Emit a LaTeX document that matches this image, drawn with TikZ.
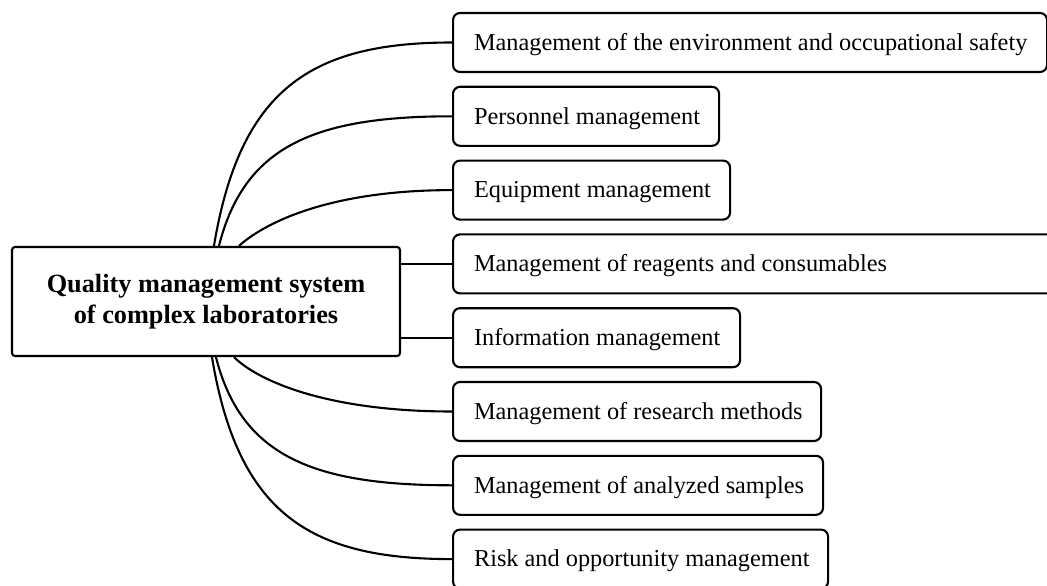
\documentclass[tikz,border=0pt]{standalone}
\usepackage{fontspec}
\setmainfont{Liberation Serif}
\usetikzlibrary{calc}
\newcommand{\leafbox}[2]{\makebox[#1][l]{#2}}
\tikzset{
  conn/.style={line width=2.1pt, black},
  leaf/.style={draw, line width=2.1pt, rounded corners=7pt, anchor=west,
    minimum height=59pt, inner xsep=21pt, inner ysep=0pt,
    text height=18pt, text depth=2.4pt,
    font=\fontsize{24.3}{29}\selectfont},
  rootbox/.style={draw, line width=2.1pt, rounded corners=3pt,
    minimum width=388pt, minimum height=109pt, align=center,
    font=\fontsize{26.3}{31}\selectfont\bfseries}
}
\begin{document}
\begin{tikzpicture}[x=1pt,y=-1pt]
\clip (0,0) rectangle (1047,586);
\node[rootbox] (main) at (206,301.5) {Quality management system\\of complex laboratories};

\node[leaf] (b1) at (452,42.5) {\leafbox{552pt}{Management of the environment and occupational safety}};
\node[leaf] (b2) at (452,116.3) {\leafbox{224pt}{Personnel management}};
\node[leaf] (b3) at (452,190.1) {\leafbox{235pt}{Equipment management}};
\node[leaf] (b4) at (452,263.9) {\leafbox{566pt}{Management of reagents and consumables}};
\node[leaf] (b5) at (452,337.7) {\leafbox{245pt}{Information management}};
\node[leaf] (b6) at (452,411.5) {\leafbox{326pt}{Management of research methods}};
\node[leaf] (b7) at (452,485.3) {\leafbox{328pt}{Management of analyzed samples}};
\node[leaf] (b8) at (452,559.1) {\leafbox{333pt}{Risk and opportunity management}};

\draw[conn] ($(main.north west)+(203,0)$) .. controls (240,90) and (310,42.5) .. (b1.west);
\draw[conn] ($(main.north west)+(208,0)$) .. controls (244,147) and (313,116.3) .. (b2.west);
\draw[conn] ($(main.north west)+(228,0)$) .. controls (262,225) and (325,190.1) .. (b3.west);
\draw[conn] (main.east |- b4.west) -- (b4.west);
\draw[conn] (main.east |- b5.west) -- (b5.west);
\draw[conn] ($(main.south west)+(223,0)$) .. controls (257,380) and (325,411.5) .. (b6.west);
\draw[conn] ($(main.south west)+(205,0)$) .. controls (241,456) and (313,485.3) .. (b7.west);
\draw[conn] ($(main.south west)+(201,0)$) .. controls (238,514) and (310,559.1) .. (b8.west);
\end{tikzpicture}
\end{document}
